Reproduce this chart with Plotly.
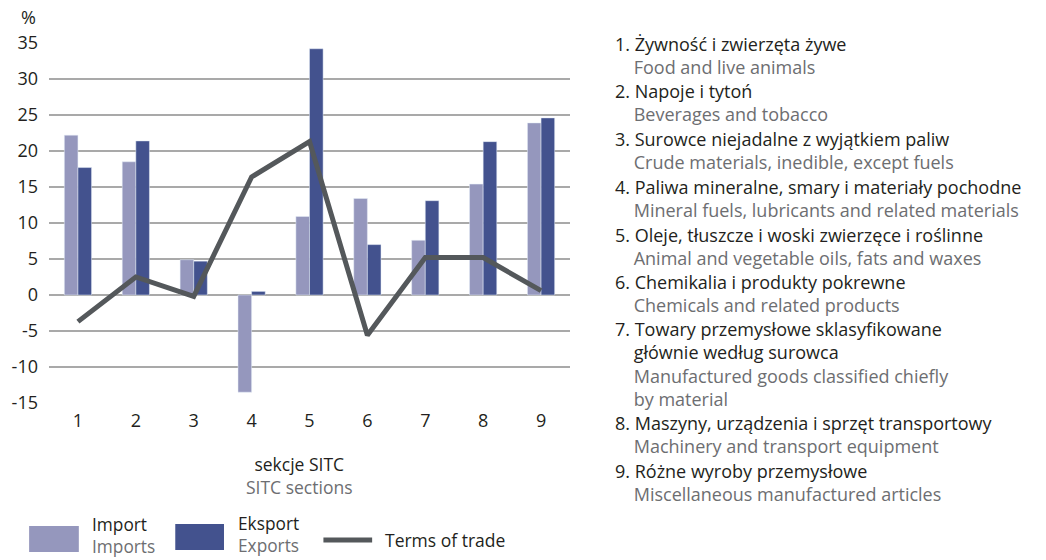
import plotly.graph_objects as go

# SITC sections and annual changes (%)
sections = [1, 2, 3, 4, 5, 6, 7, 8, 9]
imports = [22.2, 18.5, 4.9, -13.5, 10.9, 13.4, 7.6, 15.4, 23.9]
exports = [17.7, 21.4, 4.7, 0.5, 34.2, 7.0, 13.1, 21.3, 24.6]
terms_of_trade = [-3.7, 2.5, -0.2, 16.4, 21.3, -5.6, 5.2, 5.2, 0.6]
y_ticks = [-15, -10, -5, 0, 5, 10, 15, 20, 25, 30, 35]

# (Polish lines, English lines) per section
section_names = [
    (["1. Żywność i zwierzęta żywe"], ["Food and live animals"]),
    (["2. Napoje i tytoń"], ["Beverages and tobacco"]),
    (["3. Surowce niejadalne z wyjątkiem paliw"], ["Crude materials, inedible, except fuels"]),
    (["4. Paliwa mineralne, smary i materiały pochodne"], ["Mineral fuels, lubricants and related materials"]),
    (["5. Oleje, tłuszcze i woski zwierzęce i roślinne"], ["Animal and vegetable oils, fats and waxes"]),
    (["6. Chemikalia i produkty pokrewne"], ["Chemicals and related products"]),
    (["7. Towary przemysłowe sklasyfikowane", "głównie według surowca"],
     ["Manufactured goods classified chiefly", "by material"]),
    (["8. Maszyny, urządzenia i sprzęt transportowy"], ["Machinery and transport equipment"]),
    (["9. Różne wyroby przemysłowe"], ["Miscellaneous manufactured articles"]),
]

IMPORT_COLOR = "#9597bd"
EXPORT_COLOR = "#43528e"
LINE_COLOR = "#54585b"
GRID_COLOR = "#a9a9a9"
DARK = "#231f20"
GREY = "#6d6e71"
FONT = "Open Sans"
INDENT = "\u00a0" * 4

W, H = 1046, 560
L, R, T, B = 46, 476, 43, 157
PW, PH = W - L - R, H - T - B


def px(x, y):
    """Pixel position -> paper coordinates."""
    return (x - L) / PW, (H - B - y) / PH


def grey(s):
    return f"<span style='color:{GREY}'>{s}</span>"


fig = go.Figure()
fig.add_trace(go.Bar(x=sections, y=imports, name="Import", marker_color=IMPORT_COLOR))
fig.add_trace(go.Bar(x=sections, y=exports, name="Eksport", marker_color=EXPORT_COLOR))
fig.add_trace(go.Scatter(x=sections, y=terms_of_trade, name="Terms of trade", mode="lines",
                         line=dict(color=LINE_COLOR, width=5)))

annotations = []


def text(x, y, s, size=18, color=DARK, xanchor="left", align="left"):
    ax, ay = px(x, y)
    annotations.append(dict(x=ax, y=ay, xref="paper", yref="paper", text=s, showarrow=False,
                            xanchor=xanchor, yanchor="middle", align=align,
                            font=dict(family=FONT, size=size, color=color)))


# axis unit and x-axis title
text(25, 17, "%", size=18, xanchor="center")
text(298, 475, "sekcje SITC<br>" + grey("SITC sections"), size=17.5,
     xanchor="center", align="center")

# section list on the right, one block per section
LIST_SIZE = 18
STEP = 22.6
y = 44
for pl, en in section_names:
    lines = [pl[0]] + [INDENT + s for s in pl[1:]] + [INDENT + grey(s) for s in en]
    n = len(lines)
    text(613, y + (n - 1) * STEP / 2, "<br>".join(lines), size=LIST_SIZE)
    y += n * STEP + 2.5

# legend drawn as swatches with labels
shapes = []


def rect(x0, y0, x1, y1, color):
    a0, b0 = px(x0, y0)
    a1, b1 = px(x1, y1)
    shapes.append(dict(type="rect", xref="paper", yref="paper", x0=a0, y0=b0, x1=a1, y1=b1,
                       fillcolor=color, line=dict(width=0)))


rect(26, 526, 76, 552, IMPORT_COLOR)
text(87, 535.5, "Import<br>" + grey("Imports"), size=17.3)
rect(173, 524, 222, 550, EXPORT_COLOR)
text(234, 534, "Eksport<br>" + grey("Exports"), size=17.3)
lx0, ly = px(322, 540)
lx1, _ = px(371, 540)
shapes.append(dict(type="line", xref="paper", yref="paper", x0=lx0, y0=ly, x1=lx1, y1=ly,
                   line=dict(color=LINE_COLOR, width=5)))
text(382, 540, "Terms of trade", size=17.5)

fig.update_layout(
    width=W, height=H, autosize=False,
    margin=dict(l=L, r=R, t=T, b=B, pad=0),
    paper_bgcolor="white", plot_bgcolor="white",
    barmode="group", bargap=0.53, bargroupgap=0,
    showlegend=False,
    font=dict(family=FONT, size=18, color=DARK),
    annotations=annotations, shapes=shapes,
    xaxis=dict(range=[0.5, 9.5], tickvals=sections, ticktext=[str(s) for s in sections],
               showgrid=False, zeroline=False, showline=False, ticks="",
               ticklabelstandoff=5, tickfont=dict(size=18, color=DARK)),
    yaxis=dict(range=[-15, 35], tickvals=y_ticks, ticktext=[str(v) for v in y_ticks],
               showgrid=True, gridcolor=GRID_COLOR, gridwidth=1.5,
               zeroline=True, zerolinecolor=GRID_COLOR, zerolinewidth=1.5,
               showline=False, ticks="", ticklabelstandoff=10,
               tickfont=dict(size=18, color=DARK)),
)

fig.write_html("out.html")
